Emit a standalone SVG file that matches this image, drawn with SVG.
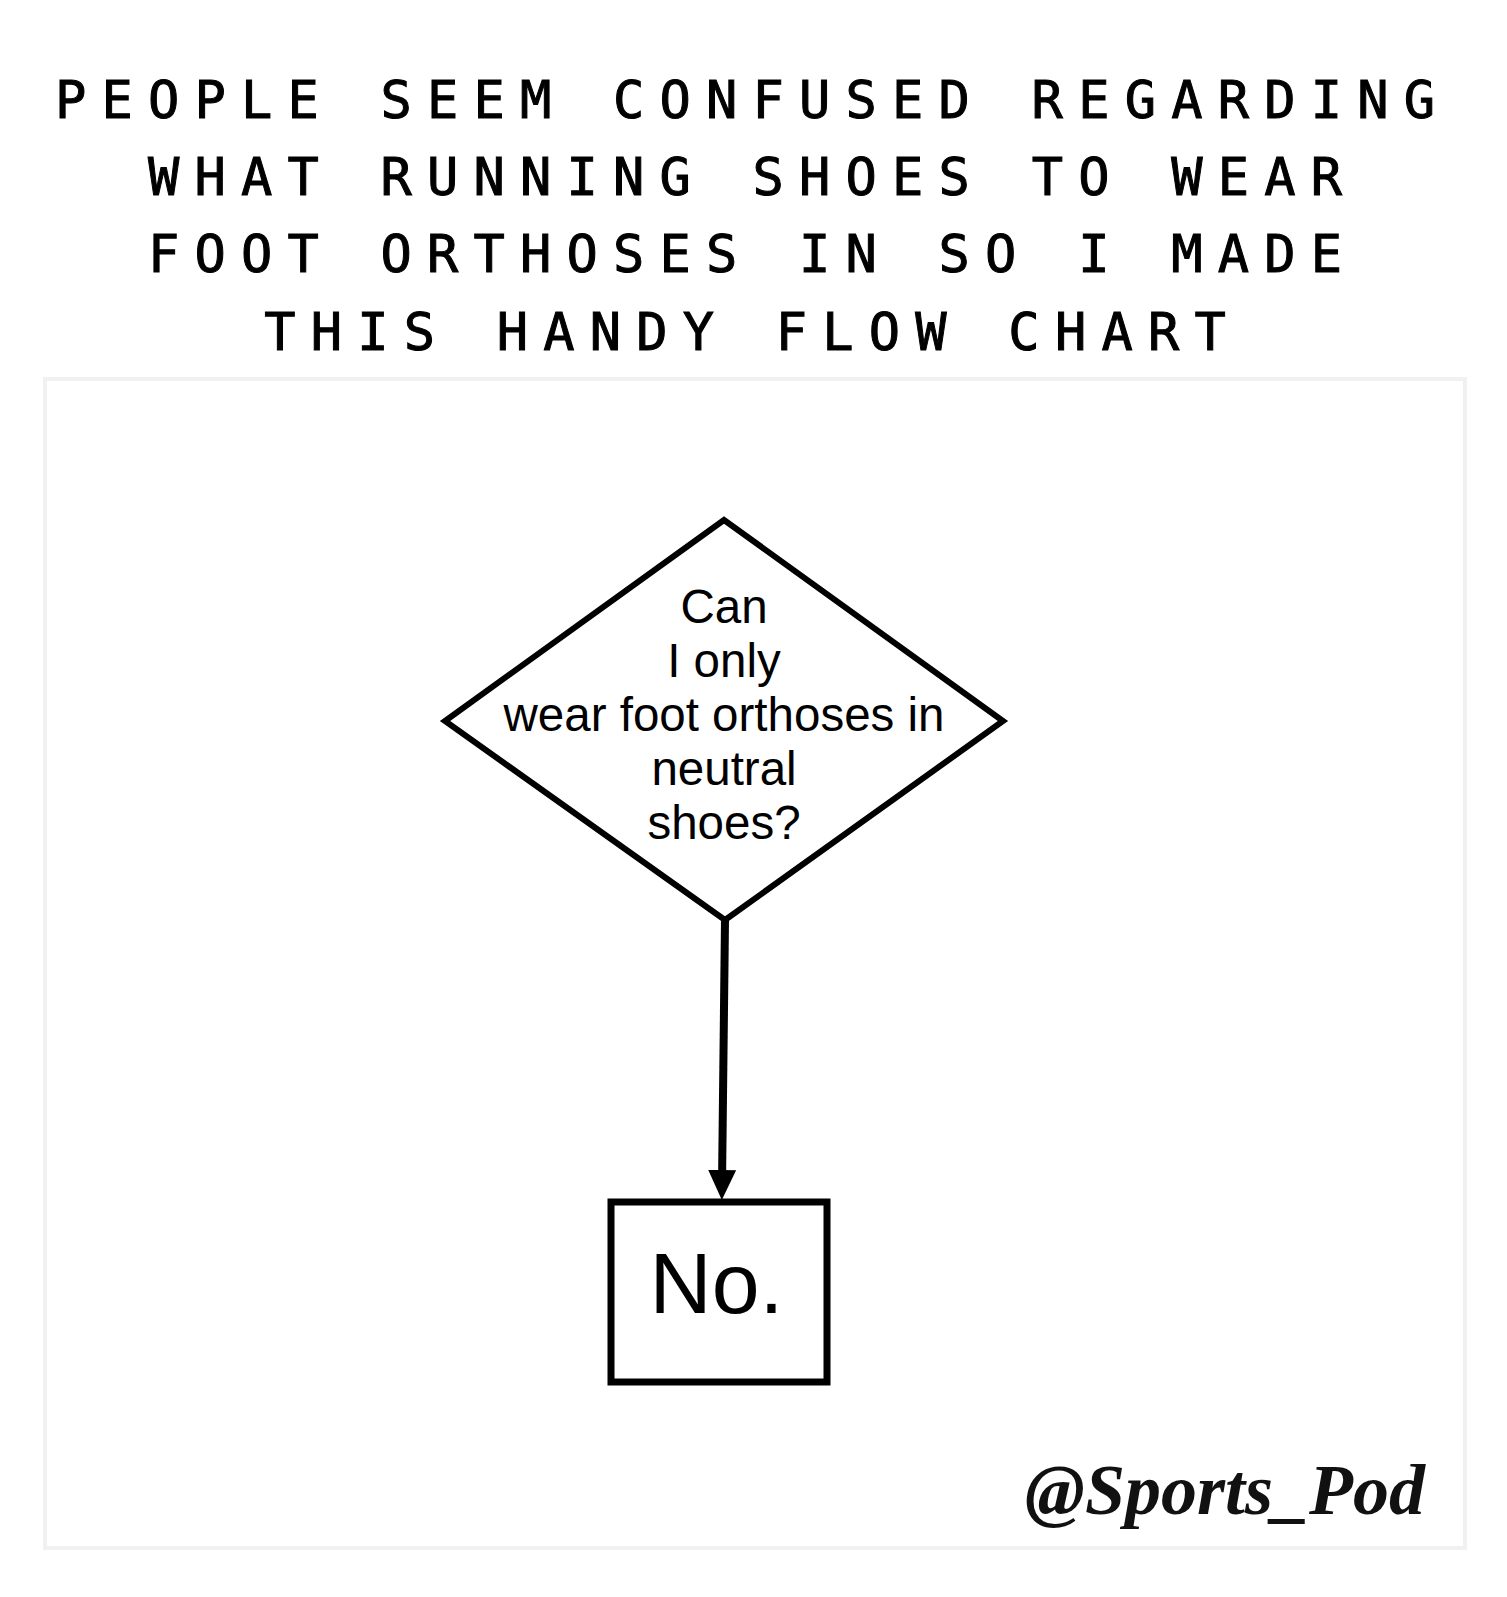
<svg xmlns="http://www.w3.org/2000/svg" width="1507" height="1597" viewBox="0 0 1507 1597">
  <style>
    .title { font-family: "DejaVu Sans Mono", "Liberation Mono", monospace; font-size: 52px; letter-spacing: 15.2px; fill: #000; stroke: #000; stroke-width: 1px; text-anchor: middle; }
    .q { font-family: "Liberation Sans", Arial, sans-serif; font-size: 47.5px; fill: #000; text-anchor: middle; }
    .ans { font-family: "Liberation Sans", Arial, sans-serif; font-size: 86px; fill: #000; text-anchor: middle; }
    .shape { fill: #fff; stroke: #000; }
    .conn { fill: none; stroke: #000; stroke-width: 8; }
    .handle { font-family: "Liberation Serif", "Times New Roman", serif; font-style: italic; font-weight: bold; font-size: 72px; fill: #111; }
  </style>
  <defs>
    <marker id="arrow" markerUnits="userSpaceOnUse" markerWidth="30" markerHeight="28" viewBox="0 0 30 28" refX="15" refY="14" orient="auto">
      <path d="M0,0 L30,14 L0,28 z" fill="#000"/>
    </marker>
  </defs>
  <rect x="0" y="0" width="1507" height="1597" fill="#fff"/>

  <g id="title">
    <text class="title" x="752.6" y="118">PEOPLE SEEM CONFUSED REGARDING</text>
    <text class="title" x="752.6" y="195">WHAT RUNNING SHOES TO WEAR</text>
    <text class="title" x="752.6" y="272">FOOT ORTHOSES IN SO I MADE</text>
    <text class="title" x="752.6" y="350">THIS HANDY FLOW CHART</text>
  </g>

  <g id="frame">
    <rect x="45" y="379" width="1420" height="1169" fill="#fff" stroke="#f1f1f1" stroke-width="4"/>
  </g>

  <g id="connectors">
    <line class="conn" x1="725" y1="920" x2="722" y2="1185" marker-end="url(#arrow)"/>
  </g>

  <g id="question">
    <polygon class="shape" stroke-width="6" points="724,520 1003,721 725,920 445,721"/>
    <text class="q" x="724" y="623">Can</text>
    <text class="q" x="724" y="677">I only</text>
    <text class="q" x="724" y="731">wear foot orthoses in</text>
    <text class="q" x="724" y="785">neutral</text>
    <text class="q" x="724" y="839">shoes?</text>
  </g>

  <g id="answer">
    <rect class="shape" stroke-width="7" x="611" y="1202" width="216" height="180"/>
    <text class="ans" x="716.5" y="1313">No.</text>
  </g>

  <g id="handle">
    <text class="handle" x="1025" y="1514" textLength="400" lengthAdjust="spacingAndGlyphs">@Sports_Pod</text>
  </g>
</svg>
